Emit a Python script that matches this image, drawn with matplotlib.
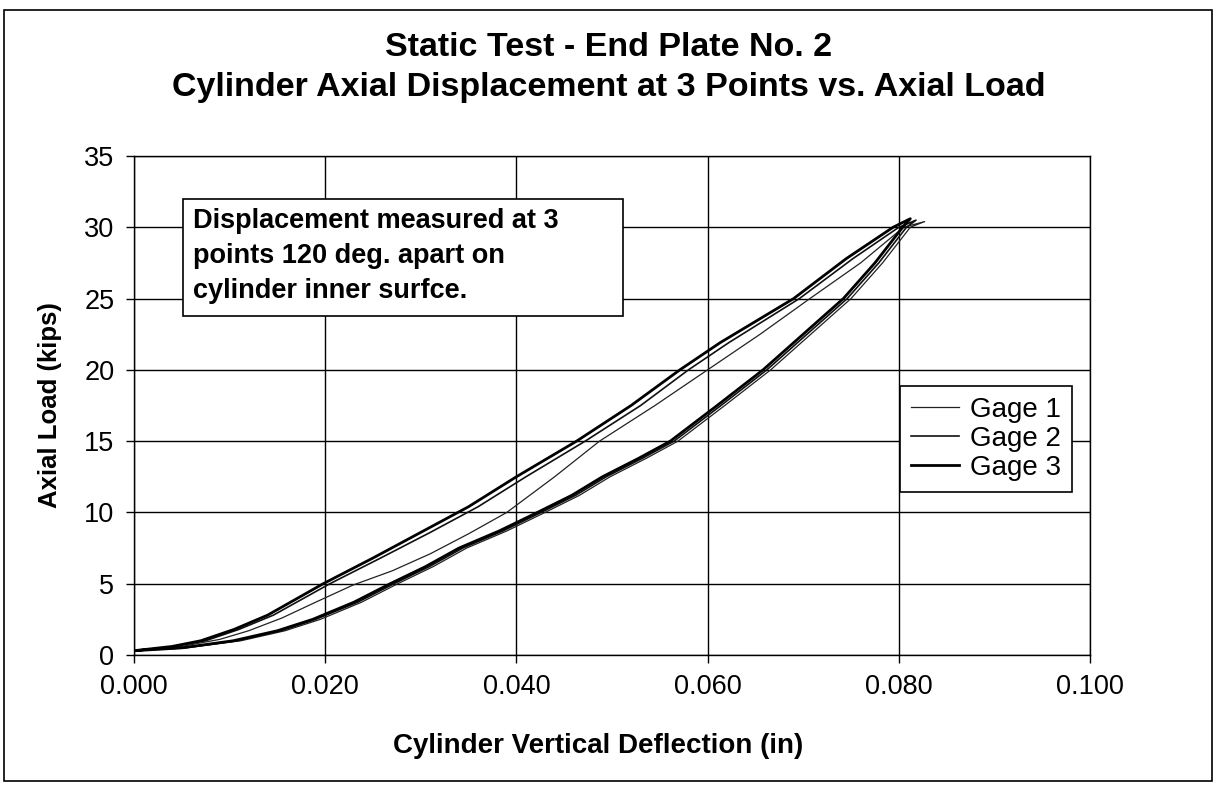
import matplotlib
matplotlib.use("Agg")
import matplotlib.pyplot as plt
from matplotlib.patches import Rectangle

plt.rcParams["font.family"] = ["Liberation Sans", "DejaVu Sans"]

# deflection (in) / load (kips), loading branch then unloading branch
gage1_x = [0.0, 0.0055, 0.0112, 0.0158, 0.0195, 0.0238, 0.0276, 0.0313, 0.0348, 0.0390,
           0.0430, 0.0466, 0.0498, 0.0536, 0.0569, 0.0618, 0.0666, 0.0708, 0.0750, 0.0783,
           0.0812, 0.0827,
           0.0805, 0.0760, 0.0707, 0.0655, 0.0600, 0.0545, 0.0487, 0.0440, 0.0390, 0.0350,
           0.0310, 0.0270, 0.0229, 0.0190, 0.0155, 0.0120, 0.0090, 0.0050, 0.0]
gage1_y = [0.3, 0.5, 1.0, 1.7, 2.5, 3.7, 5.0, 6.2, 7.5, 8.7,
           10.0, 11.2, 12.5, 13.8, 15.0, 17.5, 20.0, 22.5, 25.0, 27.5,
           30.0, 30.4,
           30.0, 27.5, 25.0, 22.5, 20.0, 17.5, 15.0, 12.5, 10.0, 8.5,
           7.1, 5.9, 4.9, 3.7, 2.6, 1.7, 1.1, 0.6, 0.3]

gage2_x = [0.0, 0.0052, 0.0108, 0.0154, 0.0190, 0.0234, 0.0272, 0.0309, 0.0344, 0.0386,
           0.0426, 0.0462, 0.0494, 0.0532, 0.0565, 0.0614, 0.0662, 0.0704, 0.0746, 0.0779,
           0.0808, 0.0818,
           0.0800, 0.0752, 0.0696, 0.0622, 0.0580, 0.0530, 0.0472, 0.0410, 0.0360, 0.0310,
           0.0258, 0.0205, 0.0146, 0.0110, 0.0075, 0.0042, 0.0]
gage2_y = [0.3, 0.5, 1.0, 1.7, 2.5, 3.7, 5.0, 6.2, 7.5, 8.7,
           10.0, 11.2, 12.5, 13.8, 15.0, 17.5, 20.0, 22.5, 25.0, 27.5,
           30.0, 30.5,
           30.0, 27.8, 25.0, 21.9, 20.0, 17.5, 15.0, 12.5, 10.4, 8.6,
           6.8, 5.0, 2.8, 1.8, 1.0, 0.6, 0.3]

gage3_x = [0.0, 0.0050, 0.0104, 0.0150, 0.0187, 0.0230, 0.0268, 0.0305, 0.0340, 0.0382,
           0.0422, 0.0458, 0.0490, 0.0528, 0.0561, 0.0610, 0.0658, 0.0700, 0.0742, 0.0775,
           0.0804, 0.0812,
           0.0794, 0.0745, 0.0690, 0.0613, 0.0571, 0.0520, 0.0463, 0.0400, 0.0350, 0.0300,
           0.0250, 0.0198, 0.0140, 0.0105, 0.0070, 0.0040, 0.0]
gage3_y = [0.3, 0.5, 1.0, 1.7, 2.5, 3.7, 5.0, 6.2, 7.5, 8.7,
           10.0, 11.2, 12.5, 13.8, 15.0, 17.5, 20.0, 22.5, 25.0, 27.5,
           30.0, 30.6,
           30.0, 27.8, 25.0, 21.9, 20.0, 17.5, 15.0, 12.5, 10.4, 8.6,
           6.8, 5.0, 2.8, 1.8, 1.0, 0.6, 0.3]

x_ticks = [0.0, 0.02, 0.04, 0.06, 0.08, 0.10]
x_labels = ["0.000", "0.020", "0.040", "0.060", "0.080", "0.100"]
y_ticks = [0, 5, 10, 15, 20, 25, 30, 35]

note = "Displacement measured at 3\npoints 120 deg. apart on\ncylinder inner surfce."

fig = plt.figure(figsize=(12.17, 7.85), dpi=100)
ax = fig.add_axes([0.110, 0.1656, 0.7857, 0.6357])

ax.plot(gage1_x, gage1_y, color="#222222", lw=0.9, label="Gage 1")
ax.plot(gage2_x, gage2_y, color="#111111", lw=1.2, label="Gage 2")
ax.plot(gage3_x, gage3_y, color="black", lw=2.0, label="Gage 3")

ax.set_xlim(0, 0.1)
ax.set_ylim(0, 35)
ax.set_xticks(x_ticks)
ax.set_xticklabels(x_labels)
ax.set_yticks(y_ticks)
ax.grid(True, color="black", lw=1.0)
ax.set_axisbelow(True)
ax.tick_params(labelsize=19.5, length=6, width=1.0, direction="out", pad=8)
for s in ax.spines.values():
    s.set_linewidth(1.0)

ax.set_xlabel("Cylinder Vertical Deflection (in)", fontsize=20, fontweight="bold")
ax.xaxis.set_label_coords(0.486, -0.157)
ax.set_ylabel("Axial Load (kips)", fontsize=18.5, fontweight="bold", labelpad=16)

fig.text(0.5, 0.940, "Static Test - End Plate No. 2", ha="center", va="center",
         fontsize=24.5, fontweight="bold")
fig.text(0.5, 0.889, "Cylinder Axial Displacement at 3 Points vs. Axial Load", ha="center",
         va="center", fontsize=24.5, fontweight="bold")

# note box
ax.add_patch(Rectangle((0.0513, 0.679), 0.460, 0.235, transform=ax.transAxes,
                       fc="white", ec="black", lw=1.2, zorder=4))
ax.text(0.0617, 0.896, note, transform=ax.transAxes, ha="left", va="top",
        fontsize=19.5, fontweight="bold", linespacing=1.46, zorder=5)

leg = ax.legend(loc="upper right", bbox_to_anchor=(0.981, 0.539), borderaxespad=0,
                fontsize=20, frameon=True, fancybox=False, edgecolor="black",
                framealpha=1, handlelength=1.7, handletextpad=0.4, labelspacing=0.1,
                borderpad=0.4)
leg.get_frame().set_linewidth(1.2)

fig.patches.append(Rectangle((0.003, 0.005), 0.993, 0.982, transform=fig.transFigure,
                             fill=False, ec="black", lw=1.2))

fig.savefig("out.png", dpi=100)
